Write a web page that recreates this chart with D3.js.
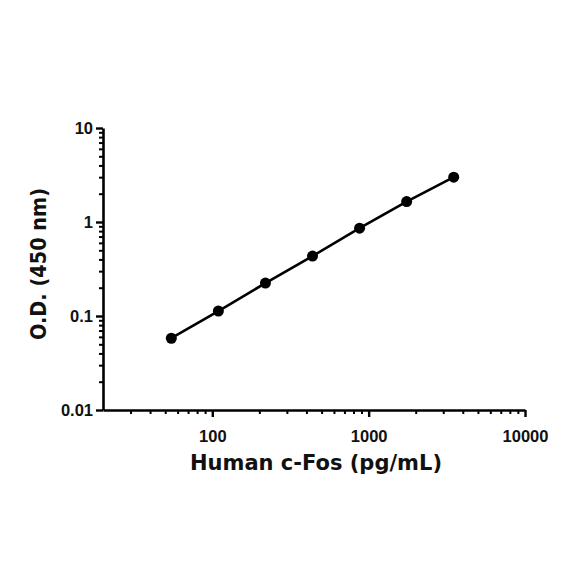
<!DOCTYPE html>
<html>
<head>
<meta charset="utf-8">
<script src="https://cdn.jsdelivr.net/npm/d3@7"></script>
<style>
html,body{margin:0;padding:0;background:#fff;}
svg{display:block;}
</style>
</head>
<body>
<svg id="chart" width="584" height="584"></svg>
<script>
// Data
const concentrations = [54.7, 109.4, 218.75, 437.5, 875, 1750, 3500];
const odValues = [0.058, 0.113, 0.224, 0.434, 0.86, 1.65, 3.0];
const xMajorTicks = [100, 1000, 10000];
const xMajorLabels = ["100", "1000", "10000"];
const yMajorTicks = [0.01, 0.1, 1, 10];
const yMajorLabels = ["0.01", "0.1", "1", "10"];
const xTitle = "Human c-Fos (pg/mL)";
const yTitle = "O.D. (450 nm)";

const svg = d3.select("#chart");
const x = d3.scaleLog().domain([20, 10000]).range([103, 525]);
const y = d3.scaleLog().domain([0.01, 10]).range([410, 128]);

function minorsBetween(lo, hi, skip) {
  const out = [];
  for (let d = lo; d < hi; d *= 10) {
    for (let k = 2; k <= 9; k++) {
      const v = d * k;
      if (v > lo * 0.999 && v < hi && !(skip && v < skip)) out.push(+v.toPrecision(3));
    }
  }
  return out;
}
const xMinor = minorsBetween(10, 10000, 25);
const yMinor = minorsBetween(0.01, 10);

const font = "'Liberation Sans', Arial, sans-serif";
const tickFontSize = 16.5;

// Y axis minor
svg.append("g").attr("transform", "translate(103,0)")
  .call(d3.axisLeft(y).tickValues(yMinor).tickSize(4).tickSizeOuter(0).tickFormat(""))
  .call(g => g.select(".domain").remove())
  .call(g => g.selectAll("line").attr("stroke", "#000").attr("stroke-width", 2));
// Y axis major
svg.append("g").attr("transform", "translate(103,0)")
  .call(d3.axisLeft(y).tickValues(yMajorTicks).tickSize(7).tickSizeOuter(0)
    .tickPadding(3).tickFormat((d, i) => yMajorLabels[i]))
  .call(g => g.select(".domain").attr("stroke", "#000").attr("stroke-width", 2.6))
  .call(g => g.selectAll("line").attr("stroke", "#000").attr("stroke-width", 2.4))
  .call(g => g.selectAll("text").attr("font-family", font).attr("font-weight", "bold")
    .attr("font-size", tickFontSize).attr("fill", "#111"));

// X axis minor
svg.append("g").attr("transform", "translate(0,410)")
  .call(d3.axisBottom(x).tickValues(xMinor).tickSize(4).tickSizeOuter(0).tickFormat(""))
  .call(g => g.select(".domain").remove())
  .call(g => g.selectAll("line").attr("stroke", "#000").attr("stroke-width", 2));
// X axis major
svg.append("g").attr("transform", "translate(0,410)")
  .call(d3.axisBottom(x).tickValues(xMajorTicks).tickSize(7).tickSizeOuter(0)
    .tickPadding(13).tickFormat((d, i) => xMajorLabels[i]))
  .call(g => g.select(".domain").attr("stroke", "#000").attr("stroke-width", 2.6))
  .call(g => g.selectAll("line").attr("stroke", "#000").attr("stroke-width", 2.4))
  .call(g => g.selectAll("text").attr("font-family", font).attr("font-weight", "bold")
    .attr("font-size", tickFontSize).attr("fill", "#111"));

// Line
const pts = concentrations.map((c, i) => [c, odValues[i]]);
svg.append("path")
  .datum(pts)
  .attr("fill", "none")
  .attr("stroke", "#000")
  .attr("stroke-width", 2.6)
  .attr("d", d3.line().x(d => x(d[0])).y(d => y(d[1])));

svg.append("g").selectAll("circle").data(pts).join("circle")
  .attr("cx", d => x(d[0])).attr("cy", d => y(d[1]))
  .attr("r", 5.5).attr("fill", "#000");

// Titles
const titleFont = "'DejaVu Sans', sans-serif";
svg.append("text")
  .attr("x", 316).attr("y", 470)
  .attr("text-anchor", "middle")
  .attr("font-family", titleFont).attr("font-weight", "bold").attr("font-size", 22)
  .attr("textLength", 252).attr("lengthAdjust", "spacingAndGlyphs")
  .attr("fill", "#111")
  .text(xTitle);

svg.append("text")
  .attr("transform", "translate(46,264) rotate(-90)")
  .attr("text-anchor", "middle")
  .attr("font-family", titleFont).attr("font-weight", "bold").attr("font-size", 22)
  .attr("textLength", 152).attr("lengthAdjust", "spacingAndGlyphs")
  .attr("fill", "#111")
  .text(yTitle);
</script>
</body>
</html>
